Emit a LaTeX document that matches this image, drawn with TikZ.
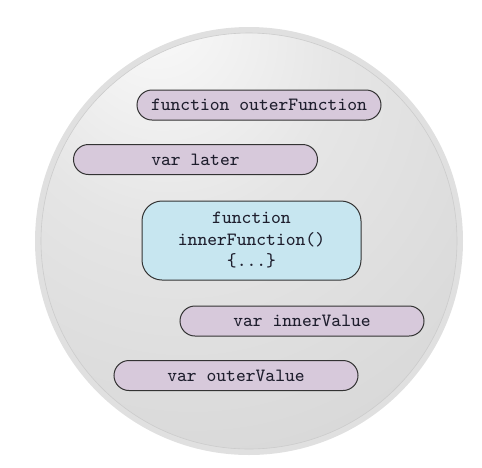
\documentclass[tikz,border=0pt]{standalone}
\usepackage{fontspec}
\definecolor{pillfill}{RGB}{215,201,219}
\definecolor{boxfill}{RGB}{199,230,240}
\definecolor{inkcol}{RGB}{30,30,45}
\pgfdeclareradialshading{scopeshade}{\pgfpoint{-12bp}{29bp}}{color(0bp)=(white!97!gray); color(20bp)=(gray!20); color(48bp)=(gray!33); color(68bp)=(gray!29); color(85bp)=(gray!19)}

\begin{document}
\begin{tikzpicture}[x=0.5pt,y=-0.5pt,
  pill/.style = {draw=black!80, line width=0.5pt, fill=pillfill, rounded corners=7.5pt, minimum width=122pt, minimum height=15pt, inner sep=0pt, font=\ttfamily\fontsize{9.35}{10.75}\selectfont, text=inkcol},
  fnbox/.style = {pill, fill=boxfill, rounded corners=10pt, minimum width=109.5pt, minimum height=39.5pt, align=center}]
        \useasboundingbox (0,0) rectangle (482,467);
        % the scope circle
        \fill[gray!24] (249,241) circle[radius=107pt];
        \shade[shading=scopeshade, draw=gray!40, line width=0.3pt] (249,241) circle[radius=104pt];
        % the names inside it
        \node[pill] (outerfn) at (259,105) {function outerFunction};
        \node[pill] (later) at (195.5,159.5) {var later};
        \node[fnbox] (innerfn) at (251.5,240.5) {function\\innerFunction()\\\{...\}};
        \node[pill] (innerval) at (302,321) {var innerValue};
        \node[pill] (outerval) at (236,375.5) {var outerValue};
\end{tikzpicture}
\end{document}
